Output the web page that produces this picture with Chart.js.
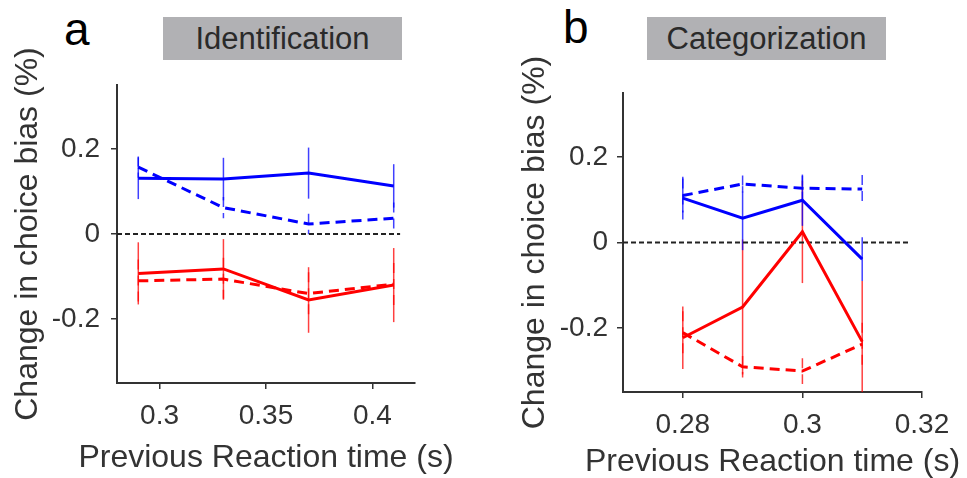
<!DOCTYPE html>
<html>
<head>
<meta charset="utf-8">
<script src="https://cdn.jsdelivr.net/npm/chart.js@4/dist/chart.umd.min.js"></script>
<style>
  html, body { margin:0; padding:0; background:#fff; width:967px; height:478px; overflow:hidden; }
  canvas { position:absolute; top:0; }
  .letter { position:absolute; font-family:"Liberation Sans", Arial, sans-serif; font-size:46px; color:#000; line-height:1; }
  .tbox { position:absolute; top:17px; height:43px; width:239px; background:#b1b1b4; color:#2a2a2a;
          font-family:"Liberation Sans", Arial, sans-serif; font-size:31px; line-height:43px; text-align:center; }
</style>
</head>
<body>
<div class="letter" style="left:64px; top:6px;">a</div>
<div class="tbox" style="left:163px;">Identification</div>
<div class="letter" style="left:563px; top:4px;">b</div>
<div class="tbox" style="left:647px;">Categorization</div>
<canvas id="ca" width="480" height="478" style="left:0px;"></canvas>
<canvas id="cb" width="477" height="478" style="left:490px;"></canvas>
<script>
// ---------- Panel a: Identification ----------
const xA = [0.29, 0.33, 0.37, 0.41];
const blueSolidA = [0.131, 0.129, 0.143, 0.113];
const blueSolidErrA = [0.049, 0.050, 0.060, 0.051];
const blueDashA = [0.157, 0.062, 0.0235, 0.037];
const blueDashErrA = [0.025, 0.025, 0.024, 0.037];
const redSolidA = [-0.0925, -0.082, -0.155, -0.120];
const redSolidErrA = [0.073, 0.070, 0.077, 0.087];
const redDashA = [-0.110, -0.106, -0.140, -0.118];
const redDashErrA = [0.050, 0.050, 0.050, 0.050];
const zeroLineXA = [0.28, 0.413];
const xTicksA = [0.3, 0.35, 0.4];
const xTickLabelsA = ["0.3", "0.35", "0.4"];
const xRangeA = [0.28, 0.42];

// ---------- Panel b: Categorization ----------
const xB = [0.28, 0.29, 0.30, 0.31];
const blueSolidB = [0.104, 0.057, 0.099, -0.039];
const blueSolidErrB = [0.050, 0.075, 0.060, 0.051];
const blueDashB = [0.110, 0.137, 0.127, 0.125];
const blueDashErrB = [0.040, 0.020, 0.029, 0.033];
const redSolidB = [-0.223, -0.151, 0.025, -0.232];
const redSolidErrB = [0.073, 0.158, 0.120, 0.142];
const redDashB = [-0.211, -0.291, -0.301, -0.238];
const redDashErrB = [0.050, 0.025, 0.030, 0.050];
const zeroLineXB = [0.27, 0.3177];
const xTicksB = [0.28, 0.30, 0.32];
const xTickLabelsB = ["0.28", "0.3", "0.32"];
const xRangeB = [0.27, 0.32];

// ---------- shared ----------
const yRange = [-0.35, 0.35];
const yTicks = [-0.2, 0, 0.2];
const yTickLabels = ["-0.2", "0", "0.2"];
const yTitle = "Change in choice bias (%)";
const xTitle = "Previous Reaction time (s)";

const FONT = '"Liberation Sans", Arial, sans-serif';
const BLUE = '#0000ff', RED = '#ff0000';
const DASH = [10, 6];

function pts(xs, ys) { return xs.map((x, i) => ({x: x, y: ys[i]})); }

const errorBarPlugin = {
  id: 'errorBars',
  beforeDatasetsDraw(chart) {
    const {ctx, chartArea, scales} = chart;
    ctx.save();
    ctx.beginPath();
    ctx.rect(chartArea.left, chartArea.top, chartArea.right - chartArea.left, chartArea.bottom - chartArea.top);
    ctx.clip();
    chart.data.datasets.forEach(ds => {
      if (!ds.errors) return;
      ctx.strokeStyle = ds.errColor;
      ctx.lineWidth = 1.5;
      ctx.setLineDash(ds.borderDash || []);
      ds.data.forEach((p, i) => {
        const e = ds.errors[i];
        const px = scales.x.getPixelForValue(p.x);
        ctx.beginPath();
        ctx.moveTo(px, scales.y.getPixelForValue(p.y + e));
        ctx.lineTo(px, scales.y.getPixelForValue(p.y - e));
        ctx.stroke();
      });
    });
    ctx.restore();
  }
};

// x-axis title drawn without Chart.js' width squeezing
const xTitlePlugin = {
  id: 'xTitleFree',
  afterDraw(chart, args, opts) {
    const {ctx, chartArea} = chart;
    ctx.save();
    ctx.font = '32px ' + FONT;
    ctx.fillStyle = '#333';
    ctx.textAlign = 'center';
    ctx.textBaseline = 'alphabetic';
    ctx.fillText(opts.text, (chartArea.left + chartArea.right) / 2, opts.baseline);
    ctx.restore();
  }
};

function makeChart(id, cfg) {
  const lineDs = (xs, ys, errs, color, dashed) => ({
    data: pts(xs, ys), errors: errs, errColor: color === BLUE ? 'rgba(0,0,255,0.75)' : 'rgba(255,0,0,0.75)',
    borderColor: color, borderWidth: 3, borderDash: dashed ? DASH : [],
    pointRadius: 0, tension: 0, fill: false
  });
  return new Chart(document.getElementById(id), {
    type: 'line',
    data: {
      datasets: [
        lineDs(cfg.x, cfg.redDash, cfg.redDashErr, RED, true),
        lineDs(cfg.x, cfg.redSolid, cfg.redSolidErr, RED, false),
        lineDs(cfg.x, cfg.blueDash, cfg.blueDashErr, BLUE, true),
        lineDs(cfg.x, cfg.blueSolid, cfg.blueSolidErr, BLUE, false),
        { data: cfg.zeroX.map(x => ({x: x, y: 0})), borderColor: '#222', borderWidth: 2,
          borderDash: [5, 3], pointRadius: 0, fill: false }
      ]
    },
    options: {
      responsive: false, animation: false,
      layout: { padding: { left: 0, top: cfg.padTop, right: cfg.padRight, bottom: 0 } },
      plugins: { legend: { display: false }, tooltip: { enabled: false },
                 xTitleFree: { text: xTitle, baseline: cfg.xTitleBaseline } },
      scales: {
        x: {
          type: 'linear', min: cfg.xRange[0], max: cfg.xRange[1],
          afterBuildTicks: s => { s.ticks = cfg.xTicks.map(v => ({value: v})); },
          afterFit: s => { s.height = cfg.xAxisH; },
          ticks: { callback: (v) => { const i = cfg.xTicks.findIndex(t => Math.abs(t - v) < 1e-9); return i >= 0 ? cfg.xTickLabels[i] : ''; },
                   font: { family: FONT, size: 28 }, color: '#333', padding: 10, maxRotation: 0, autoSkip: false },
          grid: { drawOnChartArea: false, drawTicks: true, tickLength: 6, color: '#333', lineWidth: 1.5 },
          border: { display: true, color: '#333', width: 2 },
          title: { display: false }
        },
        y: {
          type: 'linear', min: yRange[0], max: yRange[1],
          afterBuildTicks: s => { s.ticks = yTicks.map(v => ({value: v})); },
          afterFit: s => { s.width = cfg.yAxisW; },
          ticks: { callback: (v) => { const i = yTicks.findIndex(t => Math.abs(t - v) < 1e-9); return i >= 0 ? yTickLabels[i] : ''; },
                   font: { family: FONT, size: 28 }, color: '#333', padding: cfg.yTickPad },
          grid: { drawOnChartArea: false, drawTicks: true, tickLength: 6, color: '#333', lineWidth: 1.5 },
          border: { display: true, color: '#333', width: 2 },
          title: { display: true, text: yTitle, font: { family: FONT, size: 32, lineHeight: 1 }, color: '#333',
                   padding: { top: cfg.yTitlePad, bottom: 0 } }
        }
      }
    },
    plugins: [errorBarPlugin, xTitlePlugin]
  });
}

makeChart('ca', {
  x: xA, blueSolid: blueSolidA, blueSolidErr: blueSolidErrA, blueDash: blueDashA, blueDashErr: blueDashErrA,
  redSolid: redSolidA, redSolidErr: redSolidErrA, redDash: redDashA, redDashErr: redDashErrA,
  zeroX: zeroLineXA, xTicks: xTicksA, xTickLabels: xTickLabelsA, xRange: xRangeA,
  padTop: 85, padRight: 65, xAxisH: 95, yAxisW: 117, yTickPad: 11, yTitlePad: 12, xTitleBaseline: 467
});
makeChart('cb', {
  x: xB, blueSolid: blueSolidB, blueSolidErr: blueSolidErrB, blueDash: blueDashB, blueDashErr: blueDashErrB,
  redSolid: redSolidB, redSolidErr: redSolidErrB, redDash: redDashB, redDashErr: redDashErrB,
  zeroX: zeroLineXB, xTicks: xTicksB, xTickLabels: xTickLabelsB, xRange: xRangeB,
  padTop: 93, padRight: 477 - 432, xAxisH: 86, yAxisW: 133, yTickPad: 9, yTitlePad: 29, xTitleBaseline: 471
});
</script>
</body>
</html>
